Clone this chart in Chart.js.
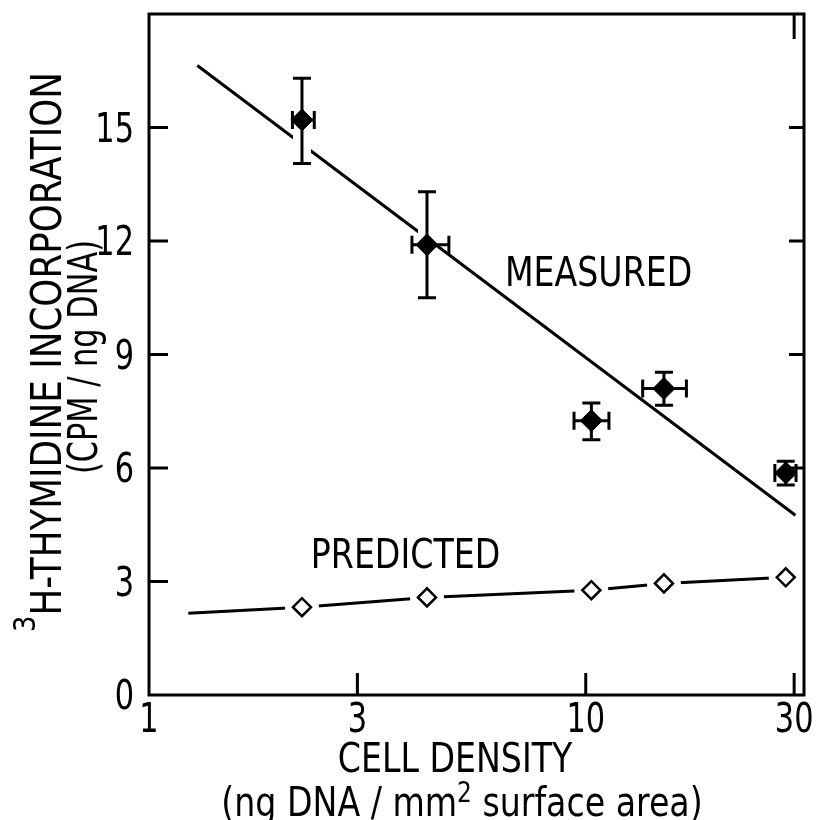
<!DOCTYPE html>
<html>
<head>
<meta charset="utf-8">
<script src="https://cdn.jsdelivr.net/npm/chart.js@4.4.0/dist/chart.umd.min.js"></script>
<style>
  html, body { margin: 0; padding: 0; background: #fff; }
  #wrap { width: 818px; height: 820px; }
</style>
</head>
<body>
<div id="wrap"><canvas id="mycanvas"></canvas></div>
<script>
// cell density (ng DNA / mm2) and 3H-thymidine incorporation (CPM / ng DNA)
var density = [2.24, 4.33, 10.3, 15.1, 28.7];
var densityLo = [2.13, 4.0, 9.4, 13.5, 27.1];
var densityHi = [2.39, 4.86, 11.3, 17.0, 30.3];
var measured = [15.2, 11.9, 7.25, 8.1, 5.87];
var measuredLo = [14.05, 10.5, 6.75, 7.66, 5.55];
var measuredHi = [16.3, 13.3, 7.72, 8.53, 6.18];
var fitX = [1.29, 30.2];
var fitY = [16.64, 4.75];
var predLineX = [1.23, 2.24, 4.33, 10.3, 15.1, 28.7];
var predLineY = [2.16, 2.32, 2.58, 2.77, 2.95, 3.11];
var predicted = [2.32, 2.58, 2.77, 2.95, 3.11];
var xTicks = [1, 3, 10, 30];
var yTicks = [0, 3, 6, 9, 12, 15];

var FONT = "'DejaVu Sans', sans-serif";
var SX = 0.83;

function pts(xs, ys) {
    var out = [];
    for (var i in xs) out.push({x: xs[i], y: ys[i]});
    return out;
}

// draw runs of text, each run may be raised (superscript) or smaller
function drawRuns(ctx, runs, x, y, align, sx) {
    sx = sx || SX;
    var total = 0;
    runs.forEach(function(r) {
        ctx.font = r.size + 'px ' + FONT;
        r.w = ctx.measureText(r.t).width * sx;
        total += r.w;
    });
    var cx = x;
    if (align === 'center') cx = x - total / 2;
    if (align === 'right') cx = x - total;
    runs.forEach(function(r) {
        ctx.save();
        ctx.font = r.size + 'px ' + FONT;
        ctx.translate(cx, y + (r.dy || 0));
        ctx.scale(sx, 1);
        ctx.textAlign = 'left';
        ctx.textBaseline = 'alphabetic';
        ctx.fillText(r.t, 0, 0);
        ctx.restore();
        cx += r.w;
    });
}

var markers = {
    id: 'markers',
    beforeDatasetDraw: function(chart, args) {
        var ctx = chart.ctx, xs = chart.scales.x, ys = chart.scales.y;
        var i, px, py;
        if (args.index === 1) {
            // white gaps in the predicted line around the open diamonds
            ctx.save();
            ctx.fillStyle = '#fff';
            for (i = 0; i < density.length; i++) {
                px = xs.getPixelForValue(density[i]);
                py = ys.getPixelForValue(predicted[i]);
                ctx.beginPath();
                ctx.arc(px, py, 17, 0, Math.PI * 2);
                ctx.fill();
            }
            ctx.restore();
        }
        if (args.index === 0) {
            ctx.save();
            var cap = 9;
            for (i = 0; i < density.length; i++) {
                px = xs.getPixelForValue(density[i]);
                py = ys.getPixelForValue(measured[i]);
                var yl = ys.getPixelForValue(measuredLo[i]);
                var yh = ys.getPixelForValue(measuredHi[i]);
                var xl = xs.getPixelForValue(densityLo[i]);
                var xh = xs.getPixelForValue(densityHi[i]);
                // white gap in the fit line around the vertical bar
                ctx.strokeStyle = '#fff';
                ctx.lineWidth = 18;
                ctx.beginPath();
                ctx.moveTo(px, yl); ctx.lineTo(px, yh);
                ctx.stroke();
                ctx.strokeStyle = '#000';
                ctx.lineWidth = 3;
                ctx.beginPath();
                ctx.moveTo(px, yl); ctx.lineTo(px, yh);
                ctx.moveTo(px - cap, yl); ctx.lineTo(px + cap, yl);
                ctx.moveTo(px - cap, yh); ctx.lineTo(px + cap, yh);
                ctx.moveTo(xl, py); ctx.lineTo(xh, py);
                ctx.moveTo(xl, py - cap); ctx.lineTo(xl, py + cap);
                ctx.moveTo(xh, py - cap); ctx.lineTo(xh, py + cap);
                ctx.stroke();
            }
            ctx.restore();
        }
    }
};

var frameAndText = {
    id: 'frameAndText',
    afterDraw: function(chart) {
        var ctx = chart.ctx, a = chart.chartArea;
        var xs = chart.scales.x, ys = chart.scales.y;
        ctx.save();
        ctx.strokeStyle = '#000';
        ctx.fillStyle = '#000';
        ctx.lineWidth = 3;
        ctx.lineCap = 'butt';
        ctx.strokeRect(a.left, a.top, a.right - a.left, a.bottom - a.top);

        // inward ticks
        ctx.beginPath();
        yTicks.forEach(function(v) {
            if (v === 0) return;
            var py = ys.getPixelForValue(v);
            ctx.moveTo(a.left, py); ctx.lineTo(a.left + 19, py);
            if (v >= 6) { ctx.moveTo(a.right, py); ctx.lineTo(a.right - 15, py); }
        });
        xTicks.forEach(function(v) {
            if (v === 1) return;
            var px = xs.getPixelForValue(v);
            ctx.moveTo(px, a.bottom); ctx.lineTo(px, a.bottom - 22);
            if (v === 30) { ctx.moveTo(px, a.top); ctx.lineTo(px, a.top + 25); }
        });
        ctx.stroke();

        // tick labels
        yTicks.forEach(function(v) {
            drawRuns(ctx, [{t: String(v), size: 40}], a.left - 15, ys.getPixelForValue(v) + 14, 'right', 0.76);
        });
        xTicks.forEach(function(v) {
            drawRuns(ctx, [{t: String(v), size: 40}], xs.getPixelForValue(v), a.bottom + 37, 'center', 0.76);
        });

        // axis titles
        drawRuns(ctx, [{t: 'CELL DENSITY', size: 40}], 455, 772, 'center');
        drawRuns(ctx, [
            {t: '(ng DNA / mm', size: 40},
            {t: '2', size: 28, dy: -14},
            {t: ' surface area)', size: 40}
        ], 462, 816, 'center');

        ctx.save();
        ctx.translate(61, 352);
        ctx.rotate(-Math.PI / 2);
        drawRuns(ctx, [
            {t: '3', size: 31, dy: -26},
            {t: 'H-THYMIDINE INCORPORATION', size: 43}
        ], 0, 0, 'center');
        ctx.restore();
        ctx.save();
        ctx.translate(97, 357);
        ctx.rotate(-Math.PI / 2);
        drawRuns(ctx, [{t: '(CPM / ng DNA)', size: 40}], 0, 0, 'center', 0.76);
        ctx.restore();

        // series labels
        drawRuns(ctx, [{t: 'MEASURED', size: 40}], xs.getPixelForValue(6.53), ys.getPixelForValue(10.81), 'left');
        drawRuns(ctx, [{t: 'PREDICTED', size: 40}], xs.getPixelForValue(6.37), ys.getPixelForValue(3.37), 'right');
        ctx.restore();
    }
};

var ctx = document.getElementById('mycanvas');
var chart = new Chart(ctx, {
    type: 'scatter',
    data: {
        datasets: [
            {
                label: 'Measured',
                data: pts(density, measured),
                pointStyle: 'rectRot',
                pointRadius: 11,
                pointBackgroundColor: '#000',
                pointBorderColor: '#000',
                pointBorderWidth: 1,
                showLine: false
            },
            {
                label: 'Predicted',
                data: pts(density, predicted),
                pointStyle: 'rectRot',
                pointRadius: 9,
                pointBackgroundColor: '#fff',
                pointBorderColor: '#000',
                pointBorderWidth: 2.5,
                showLine: false
            },
            {
                label: 'Predicted line',
                data: pts(predLineX, predLineY),
                pointRadius: 0,
                borderColor: '#000',
                borderWidth: 3,
                showLine: true
            },
            {
                label: 'Measured fit',
                data: pts(fitX, fitY),
                pointRadius: 0,
                borderColor: '#000',
                borderWidth: 3,
                showLine: true
            }
        ]
    },
    options: {
        responsive: true,
        maintainAspectRatio: false,
        animation: false,
        layout: { padding: { left: 0, top: 14, right: 14, bottom: 0 } },
        plugins: { legend: { display: false }, tooltip: { enabled: false } },
        scales: {
            x: {
                type: 'logarithmic',
                min: 1,
                max: 31.6,
                grid: { display: false, drawTicks: false },
                border: { display: false },
                ticks: { display: false },
                afterFit: function(scale) { scale.height = 125; }
            },
            y: {
                type: 'linear',
                min: 0,
                max: 18,
                grid: { display: false, drawTicks: false },
                border: { display: false },
                ticks: { display: false },
                afterFit: function(scale) { scale.width = 149; }
            }
        }
    },
    plugins: [markers, frameAndText]
});
</script>
</body>
</html>
